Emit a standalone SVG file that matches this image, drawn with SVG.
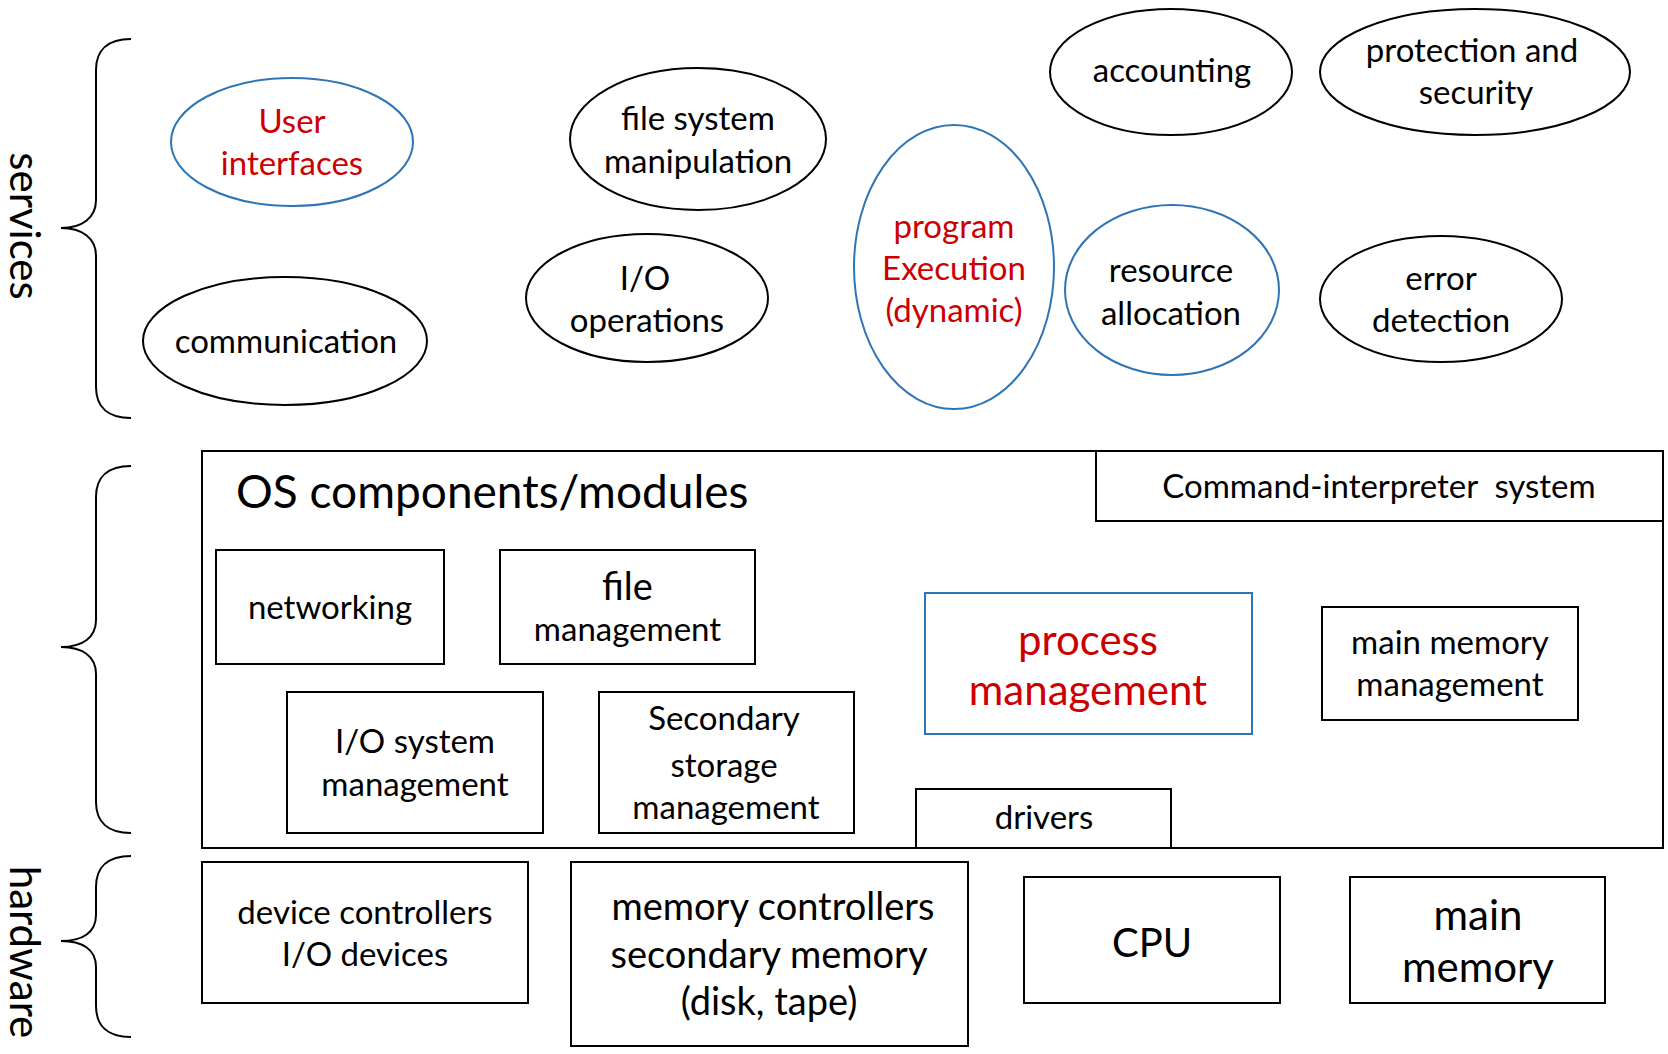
<svg xmlns="http://www.w3.org/2000/svg" width="1668" height="1054" viewBox="0 0 1668 1054">
<style>
text{font-family:Lato,"Open Sans","Liberation Sans",sans-serif;fill:#000;text-anchor:middle}
.t{font-size:33px}
.m{font-size:38px}
.l{font-size:42px}
.xl{font-size:46px}
.red{fill:#CC0000}
.k{fill:none;stroke:#000;stroke-width:2}
.b{fill:none;stroke:#2E75B6;stroke-width:2}
.br{fill:none;stroke:#000;stroke-width:2}
</style>
<rect width="1668" height="1054" fill="#fff"/>
<g id="braces">
<path class="br" d="M131,39 C108,39 96,50 96,70 L96,200 C96,218 82,228 61,228 C82,228 96,238 96,256 L96,387 C96,407 108,418 131,418"/>
<path class="br" d="M131,466 C108,466 96,477 96,497 L96,620 C96,638 82,647 61,647 C82,647 96,656 96,674 L96,802 C96,822 108,833 131,833"/>
<path class="br" d="M131,856 C108,856 96,867 96,887 L96,915 C96,933 82,941 61,941 C82,941 96,949 96,967 L96,1006 C96,1026 108,1037 131,1037"/>
</g>
<g id="labels">
<text class="l" transform="translate(10,226) rotate(90)">services</text>
<text class="l" transform="translate(10,952) rotate(90)">hardware</text>
</g>
<g id="connectors"></g>
<g id="user-interfaces">
<ellipse class="b" cx="292" cy="142" rx="121" ry="64"/>
<text class="t red" x="292" y="133">User</text>
<text class="t red" x="292" y="175">interfaces</text>
</g>
<g id="communication">
<ellipse class="k" cx="285" cy="341" rx="142" ry="64"/>
<text class="t" x="286" y="353">communication</text>
</g>
<g id="file-system-manipulation">
<ellipse class="k" cx="698" cy="139" rx="128" ry="71"/>
<text class="t" x="698" y="130">file system</text>
<text class="t" x="698" y="173">manipulation</text>
</g>
<g id="io-operations">
<ellipse class="k" cx="647" cy="298" rx="121" ry="64"/>
<text class="t" x="645" y="290">I/O</text>
<text class="t" x="647" y="332">operations</text>
</g>
<g id="program-execution">
<ellipse class="b" cx="954" cy="267" rx="100" ry="142"/>
<text class="t red" x="954" y="238">program</text>
<text class="t red" x="954" y="280">Execution</text>
<text class="t red" x="954" y="322">(dynamic)</text>
</g>
<g id="resource-allocation">
<ellipse class="b" cx="1172" cy="290" rx="107" ry="85"/>
<text class="t" x="1171" y="282">resource</text>
<text class="t" x="1171" y="325">allocation</text>
</g>
<g id="accounting">
<ellipse class="k" cx="1171" cy="72" rx="121" ry="63"/>
<text class="t" x="1172" y="82">accounting</text>
</g>
<g id="protection-security">
<ellipse class="k" cx="1475" cy="72" rx="155" ry="63"/>
<text class="t" x="1472" y="62">protection and</text>
<text class="t" x="1476" y="104">security</text>
</g>
<g id="error-detection">
<ellipse class="k" cx="1441" cy="299" rx="121" ry="63"/>
<text class="t" x="1441" y="290">error</text>
<text class="t" x="1441" y="332">detection</text>
</g>
<g id="os-components">
<rect class="k" x="202" y="451" width="1461" height="397"/>
<text class="xl" x="236" y="508" style="text-anchor:start">OS components/modules</text>
</g>
<g id="command-interpreter">
<rect class="k" x="1096" y="451" width="567" height="70"/>
<text class="t" x="1379" y="498" style="white-space:pre">Command-interpreter  system</text>
</g>
<g id="networking">
<rect class="k" x="216" y="550" width="228" height="114"/>
<text class="t" x="330" y="619">networking</text>
</g>
<g id="file-management">
<rect class="k" x="500" y="550" width="255" height="114"/>
<text class="m" x="627.5" y="600">file</text>
<text class="t" x="627.5" y="641">management</text>
</g>
<g id="io-system-management">
<rect class="k" x="287" y="692" width="256" height="141"/>
<text class="t" x="415" y="753">I/O system</text>
<text class="t" x="415" y="796">management</text>
</g>
<g id="secondary-storage-management">
<rect class="k" x="599" y="692" width="255" height="141"/>
<text class="t" x="724" y="730">Secondary</text>
<text class="t" x="724" y="777">storage</text>
<text class="t" x="726" y="819">management</text>
</g>
<g id="process-management">
<rect class="b" x="925" y="593" width="327" height="141"/>
<text class="l red" x="1088" y="655">process</text>
<text class="l red" x="1088" y="705">management</text>
</g>
<g id="main-memory-management">
<rect class="k" x="1322" y="607" width="256" height="113"/>
<text class="t" x="1450" y="654">main memory</text>
<text class="t" x="1450" y="696">management</text>
</g>
<g id="drivers">
<path class="k" d="M916,848 L916,789 L1171,789 L1171,848"/>
<text class="t" x="1044" y="829">drivers</text>
</g>
<g id="device-controllers">
<rect class="k" x="202" y="862" width="326" height="141"/>
<text class="t" x="365" y="924">device controllers</text>
<text class="t" x="365" y="966">I/O devices</text>
</g>
<g id="memory-controllers">
<rect class="k" x="571" y="862" width="397" height="184"/>
<text class="m" x="773" y="920">memory controllers</text>
<text class="m" x="769" y="968">secondary memory</text>
<text class="m" x="769" y="1015">(disk, tape)</text>
</g>
<g id="cpu">
<rect class="k" x="1024" y="877" width="256" height="126"/>
<text class="l" x="1152" y="957" style="font-size:40px">CPU</text>
</g>
<g id="main-memory">
<rect class="k" x="1350" y="877" width="255" height="126"/>
<text class="l" x="1478" y="930">main</text>
<text class="l" x="1478" y="982">memory</text>
</g>
</svg>
